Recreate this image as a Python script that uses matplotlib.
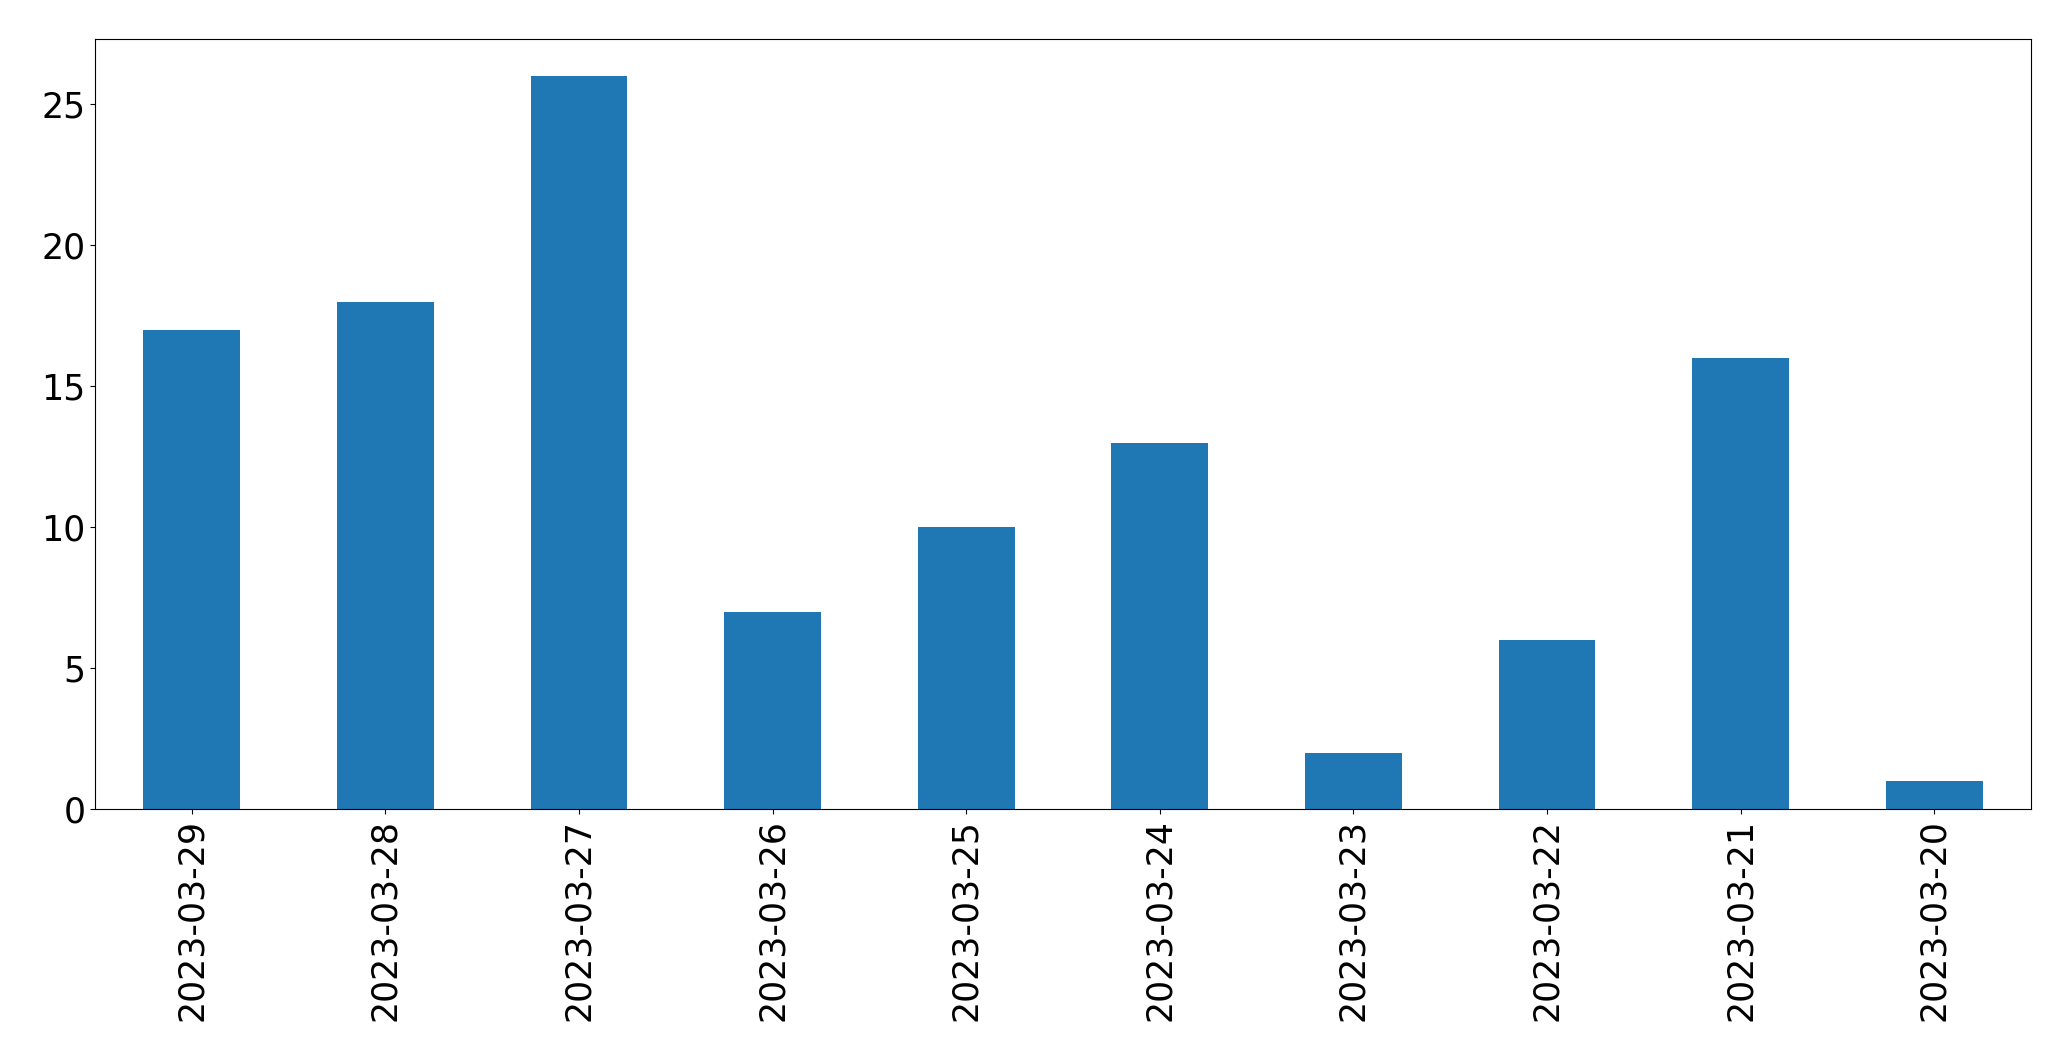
import matplotlib
matplotlib.use("Agg")
import matplotlib.pyplot as plt
import pandas as pd

dates = ["2023-03-29", "2023-03-28", "2023-03-27", "2023-03-26", "2023-03-25",
         "2023-03-24", "2023-03-23", "2023-03-22", "2023-03-21", "2023-03-20"]
counts = [17, 18, 26, 7, 10, 13, 2, 6, 16, 1]

series = pd.Series(counts, index=dates)

fig = plt.figure(figsize=(20.71, 10.61), dpi=100)
ax = fig.add_axes([0.0459, 0.2375, 0.9348, 0.7253])
series.plot(kind="bar", ax=ax, color="#1f77b4")

ax.tick_params(axis="both", labelsize=25)

fig.savefig("out.png", dpi=100)
